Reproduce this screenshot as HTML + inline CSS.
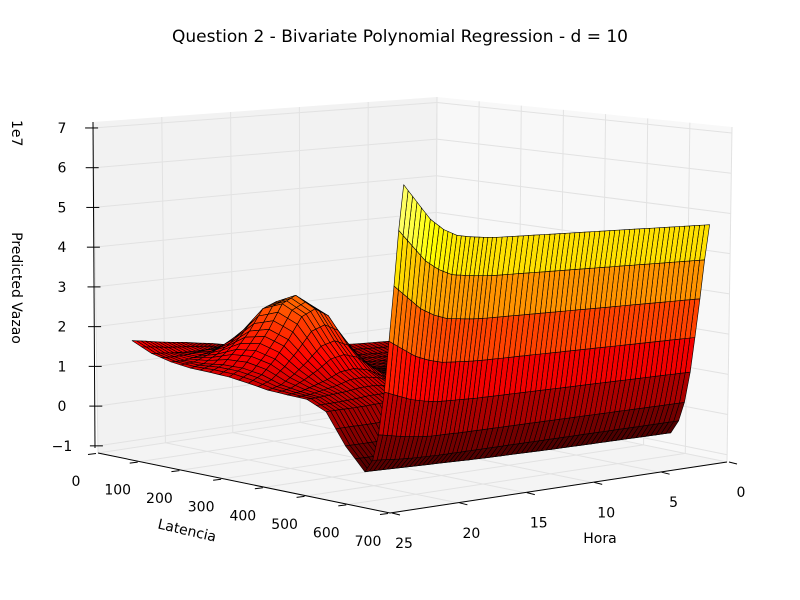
<!DOCTYPE html>
<html><head><meta charset="utf-8"><style>
html,body{margin:0;padding:0;background:#fff;}
svg{display:block;font-family:"DejaVu Sans","Liberation Sans",sans-serif;}
</style></head><body>
<svg id="chart" width="800" height="600" viewBox="0 0 800 600" xmlns="http://www.w3.org/2000/svg">
<rect width="800" height="600" fill="#fff"/>
<text x="400" y="42" text-anchor="middle" font-size="17">Question 2 - Bivariate Polynomial Regression - d = 10</text>
<g id="panes"></g>
<g id="grid"></g>
<g id="axes"></g>
<g id="surface"></g>
<text x="0" y="0" font-size="14" transform="translate(12,120) rotate(90)">1e7</text>
<text x="0" y="0" font-size="14" text-anchor="middle" transform="translate(12,288) rotate(90)">Predicted Vazao</text>
<text x="0" y="0" font-size="14" text-anchor="middle" transform="translate(186,535) rotate(13)">Latencia</text>
<text x="600" y="543" font-size="14" text-anchor="middle">Hora</text>
</svg>
<script>
const latValues = [0,50,100,150,200,250,300,350,400,450,500,550,600,620,635,650,662,675,687,700];
const horaValues = [0,3,6,9,12,14,16,17,18,19,20,21,22,23];
const zGrid = [
[0.9,0.95,1.0,1.08,1.2,1.3,1.42,1.49,1.54,1.6,1.64,1.69,1.75,1.8],
[0.74,0.78,0.83,0.9,1.01,1.12,1.29,1.38,1.45,1.48,1.49,1.5,1.53,1.56],
[0.68,0.72,0.76,0.82,0.93,1.05,1.4,1.6,1.69,1.69,1.58,1.49,1.43,1.43],
[0.67,0.7,0.74,0.8,0.89,1.07,1.72,2.09,2.25,2.17,1.87,1.63,1.43,1.36],
[0.71,0.74,0.77,0.82,0.91,1.14,2.12,2.71,2.92,2.78,2.25,1.83,1.49,1.34],
[0.75,0.77,0.8,0.84,0.92,1.16,2.26,2.91,3.15,2.97,2.37,1.88,1.49,1.31],
[0.79,0.81,0.83,0.86,0.93,1.14,2.1,2.68,2.88,2.72,2.19,1.75,1.41,1.24],
[0.83,0.84,0.86,0.88,0.93,1.07,1.68,2.03,2.17,2.07,1.75,1.47,1.25,1.16],
[0.92,0.93,0.94,0.96,0.99,1.05,1.34,1.51,1.57,1.53,1.38,1.27,1.17,1.13],
[1.01,1.01,1.02,1.03,1.04,1.07,1.16,1.21,1.24,1.23,1.18,1.15,1.12,1.11],
[0.9,0.9,0.9,0.9,0.9,0.9,0.92,0.94,0.94,0.94,0.92,0.91,0.91,0.9],
[0.2,0.2,0.2,0.2,0.2,0.2,0.2,0.2,0.2,0.2,0.2,0.2,0.2,0.2],
[-0.45,-0.44,-0.43,-0.42,-0.4,-0.39,-0.37,-0.36,-0.35,-0.34,-0.33,-0.32,-0.31,-0.3],
[-0.1,-0.1,-0.1,-0.1,-0.1,-0.1,-0.1,-0.1,-0.1,-0.09,-0.08,-0.06,-0.03,0.0],
[0.4,0.4,0.4,0.4,0.4,0.4,0.4,0.4,0.41,0.41,0.44,0.48,0.54,0.6],
[1.2,1.2,1.2,1.2,1.2,1.2,1.2,1.21,1.22,1.23,1.28,1.35,1.47,1.59],
[2.1,2.1,2.1,2.1,2.1,2.1,2.1,2.11,2.13,2.15,2.23,2.35,2.55,2.75],
[3.1,3.1,3.1,3.1,3.1,3.1,3.1,3.11,3.14,3.17,3.28,3.45,3.73,4.01],
[4.1,4.1,4.1,4.1,4.1,4.1,4.1,4.12,4.15,4.19,4.33,4.55,4.91,5.27],
[5.0,5.0,5.0,5.0,5.0,5.0,5.0,5.02,5.05,5.1,5.25,5.5,5.9,6.3]
];
const zTickLabels = ["\u22121","0","1","2","3","4","5","6","7"];
const zTickValues = [-1,0,1,2,3,4,5,6,7];
const latTickValues = [0,100,200,300,400,500,600,700];
const horaTickValues = [0,5,10,15,20,25];

const NS = "http://www.w3.org/2000/svg";
function mk(tag, attrs, parent){ const e=document.createElementNS(NS,tag); for(const k in attrs) e.setAttribute(k,attrs[k]); parent.appendChild(e); return e; }

const Ab=[98,453], At=[93,122], Db=[435,402], Dt=[437,97], Cb=[727,462], Ct=[732,127], Bb=[390,513];
const ZMIN=-1.18, ZMAX=7.15;
function lerp(p,q,t){ return [p[0]+(q[0]-p[0])*t, p[1]+(q[1]-p[1])*t]; }
function zf(z){ return (z-ZMIN)/(ZMAX-ZMIN); }
const panes=document.getElementById('panes');
function poly(pts){ return pts.map(p=>p[0].toFixed(1)+','+p[1].toFixed(1)).join(' '); }
let e;
e=mk('polygon',{points:poly([Ab,At,Dt,Db]),fill:'#f2f2f2',stroke:'none'},panes);
 
e=mk('polygon',{points:poly([Db,Dt,Ct,Cb]),fill:'#f8f8f8',stroke:'none'},panes);
 
e=mk('polygon',{points:poly([Ab,Bb,Cb,Db]),fill:'#f4f4f4',stroke:'none'},panes);
 

const grid=document.getElementById('grid');
function gl(p,q,name){ const l=mk('line',{x1:p[0],y1:p[1],x2:q[0],y2:q[1],stroke:'#e2e2e2','stroke-width':1},grid);
   }
zTickValues.forEach(z=>{
  const t=zf(z);
  const a=lerp(Ab,At,t), d=lerp(Db,Dt,t), c=lerp(Cb,Ct,t);
  gl(a,d,'z-grid-left'); gl(d,c,'z-grid-right');
});
horaTickValues.forEach(h=>{
  const t=(25-h)/25;
  const b=lerp(Ab,Db,t), tp=lerp(At,Dt,t), f=lerp(Bb,Cb,t);
  gl(b,tp,'hora-grid-wall'); gl(b,f,'hora-grid-floor');
});
latTickValues.forEach(l=>{
  const t=l/700;
  const b=lerp(Db,Cb,t), tp=lerp(Dt,Ct,t), f=lerp(Ab,Bb,t);
  gl(b,tp,'lat-grid-wall'); gl(b,f,'lat-grid-floor');
});

const axes=document.getElementById('axes');
function al(p,q,name,w){ const l=mk('line',{x1:p[0],y1:p[1],x2:q[0],y2:q[1],stroke:'#000','stroke-width':w||1},axes);
   return l;}
al([95,448],[93,122],'z-axis-line');
al(Ab,Bb,'latencia-axis-line');
al(Bb,Cb,'hora-axis-line');
zTickValues.forEach((z,i)=>{
  const p=lerp(Ab,At,zf(z));
  al([p[0]-8,p[1]],[p[0]+5,p[1]],'z-tick');
  const t=mk('text',{x:62,y:p[1]+5,'text-anchor':'middle','font-size':14},axes);
  t.textContent=zTickLabels[i];
   
});
latTickValues.forEach(l=>{
  const p=lerp(Ab,Bb,l/700);
  al([p[0]-2,p[1]+0.5],[p[0]-10,p[1]+1.5],'latencia-tick');
  const t=mk('text',{x:p[0]-22,y:p[1]+33,'text-anchor':'middle','font-size':14},axes);
  t.textContent=String(l);
   
});
horaTickValues.forEach(h=>{
  const p=lerp(Bb,Cb,(25-h)/25);
  al([p[0]+2,p[1]],[p[0]+10,p[1]+2],'hora-tick');
  const t=mk('text',{x:p[0]+14,y:p[1]+35,'text-anchor':'middle','font-size':14},axes);
  t.textContent=String(h);
   
});

function proj(l,h,z){
  const s=1+0.0055*h+0.0002*(l-700);
  return [438+0.388*l-13.3*h, 402+0.087*l+2.1*h-39.7*(z+1)*s];
}
function hot(t){ t=Math.max(0,Math.min(1,t));
  const r=Math.min(1,t/0.365), g=Math.max(0,Math.min(1,(t-0.365)/0.381)), b=Math.max(0,Math.min(1,(t-0.746)/0.254));
  return 'rgb('+Math.round(r*255)+','+Math.round(g*255)+','+Math.round(b*255)+')'; }
const CMIN=-1.2, CMAX=7.0;
const faces=[];
function zAt(i,j,u,v){
  return zGrid[i][j]*(1-u)*(1-v)+zGrid[i+1][j]*u*(1-v)+zGrid[i][j+1]*(1-u)*v+zGrid[i+1][j+1]*u*v; }
for(let i=0;i<latValues.length-1;i++){
  const l0=latValues[i], l1=latValues[i+1];
  const nl=Math.max(1,Math.ceil((l1-l0)/25));
  for(let j=0;j<horaValues.length-1;j++){
    const h0=horaValues[j], h1=horaValues[j+1];
    const nh=Math.max(1,Math.ceil((h1-h0)/0.4));
    for(let a=0;a<nl;a++){ for(let b=0;b<nh;b++){
      const u0=a/nl,u1=(a+1)/nl,v0=b/nh,v1=(b+1)/nh;
      const la=l0+(l1-l0)*u0, lb=l0+(l1-l0)*u1, ha=h0+(h1-h0)*v0, hb=h0+(h1-h0)*v1;
      const z00=zAt(i,j,u0,v0), z10=zAt(i,j,u1,v0), z11=zAt(i,j,u1,v1), z01=zAt(i,j,u0,v1);
      const pts=[proj(la,ha,z00),proj(lb,ha,z10),proj(lb,hb,z11),proj(la,hb,z01)];
      const zc=(z00+z10+z11+z01)/4, lc=(la+lb)/2, hc=(ha+hb)/2;
      faces.push({pts:pts, z:zc, d:0.087*lc+2.1*hc});
    }}
  }
}
faces.sort((p,q)=>p.d-q.d);
const surf=document.getElementById('surface');
faces.forEach(f=>{
  const p=mk('polygon',{points:poly(f.pts),fill:hot((f.z-CMIN)/(CMAX-CMIN)),stroke:'#000','stroke-width':0.6,'stroke-linejoin':'round'},surf);
  
  
});
</script>
</body></html>
